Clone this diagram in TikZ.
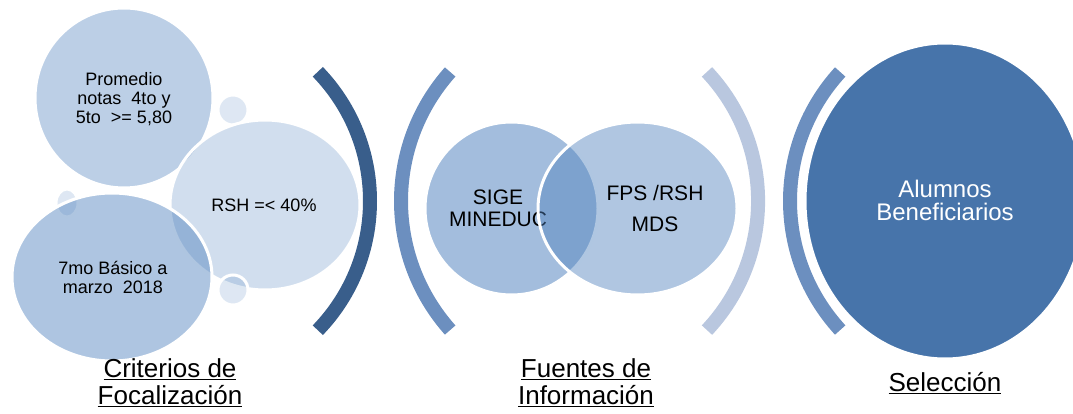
\documentclass[tikz,border=0pt]{standalone}
\usepackage{fontspec}
\setmainfont{Liberation Sans}
\usetikzlibrary{shapes.geometric}
\usetikzlibrary{positioning}
\definecolor{accblue}{RGB}{79,129,189}
\definecolor{arcdark}{RGB}{57,94,139}
\definecolor{arcmid}{RGB}{108,143,191}
\definecolor{arclight}{RGB}{185,199,223}
\definecolor{bigblue}{RGB}{71,116,170}

\begin{document}
\begin{tikzpicture}[x=1pt,y=-1pt,
	bubble/.style={ellipse, draw=white, line width=3pt, fill=accblue, inner sep=0pt},
	txt/.style={align=center, font=\fontsize{18}{19}\selectfont},
	bigtxt/.style={align=center, font=\fontsize{21}{22}\selectfont},
	bracket/.style={line width=14pt, line cap=butt},
	title/.style={align=center, font=\fontsize{26}{27}\selectfont}]
		\useasboundingbox (0,0) rectangle (1073,414);
		\clip (0,0) rectangle (1073,414);

		% criterios
		\node[bubble, fill opacity=0.38, minimum width=178pt, minimum height=180pt] (prom) at (124,98) {};
		\node[txt] (promtxt) at (124,99) {Promedio\\notas~ 4to y\\5to~ >= 5,80};
		\node[bubble, fill opacity=0.19, minimum width=30pt, minimum height=30pt] (dottop) at (233,110) {};
		\node[bubble, fill opacity=0.19, minimum width=22pt, minimum height=28pt] (dotleft) at (67,203) {};
		\node[bubble, fill opacity=0.26, minimum width=190pt, minimum height=170pt] (rsh) at (265,205) {};
		\node[txt] (rshtxt) at (264,205) {RSH =< 40\%};
		\node[bubble, fill opacity=0.19, minimum width=30pt, minimum height=30pt] (dotbot) at (233,290) {};
		\node[bubble, fill opacity=0.46, minimum width=200pt, minimum height=168pt] (basico) at (112,277) {};
		\node[txt] (basicotxt) at (113,277) {7mo Básico a\\marzo~ 2018};

		\draw[bracket, arcdark] (184,201) ++(-44:186) arc[start angle=-44, end angle=44, radius=186];

		% fuentes
		\draw[bracket, arcmid] (595,201) ++(138.3:194) arc[start angle=138.3, end angle=221.7, radius=194];
		\node[bubble, fill opacity=0.52, minimum width=173pt, minimum height=173pt] (sige) at (511.5,208.5) {};
		\node[bigtxt] (sigetxt) at (498,208) {SIGE\\MINEDUC};
		\node[bubble, fill opacity=0.45, minimum width=199pt, minimum height=173pt] (fps) at (637.5,208.5) {};
		\node[bigtxt] (fpstxt) at (655,208) {FPS /RSH\\[9pt]MDS};
		\draw[bracket, arclight] (569.5,201) ++(-43.2:188.6) arc[start angle=-43.2, end angle=43.2, radius=188.6];

		% seleccion
		\draw[bracket, arcmid] (981,201) ++(137.5:191) arc[start angle=137.5, end angle=222.5, radius=191];
		\node[bubble, fill=bigblue, minimum width=280pt, minimum height=316pt] (sel) at (945,201) {};
		\node[align=center, text=white, font=\fontsize{24}{23}\selectfont] (seltxt) at (945,200.5) {Alumnos\\Beneficiarios};

		\node[title] (crit) at (170,383) {\underline{Criterios de}\\\underline{Focalización}};
		\node[title] (fuen) at (586,383) {\underline{Fuentes de}\\\underline{Información}};
		\node[title] (selec) at (945,383) {\underline{Selección}};

	\end{tikzpicture}
\end{document}
